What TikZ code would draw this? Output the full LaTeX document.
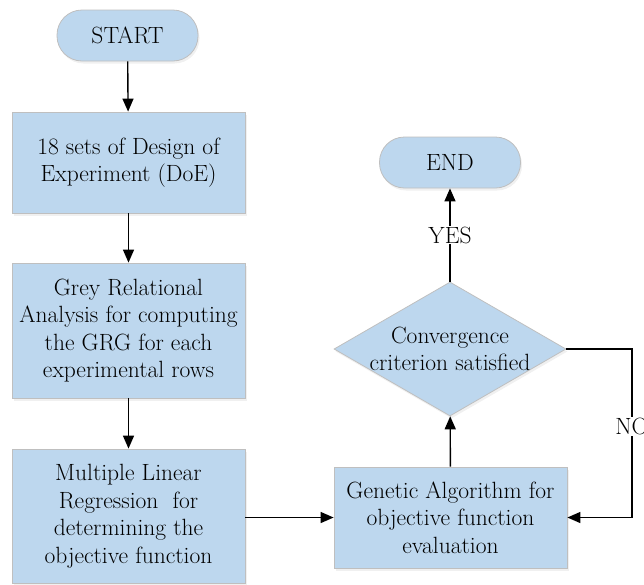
\documentclass[tikz,border=0pt]{standalone}
\usetikzlibrary{shapes.geometric,arrows.meta,shadows}
\definecolor{boxfill}{HTML}{BDD7EE}
\definecolor{boxline}{HTML}{BFBFBF}
\begin{document}
\begin{tikzpicture}[x=1pt,y=-1pt,
  txt/.style={font=\rmfamily\fontsize{23.5}{27.5}\selectfont, align=center, text=black},
  base/.style={txt, fill=boxfill, draw=boxline, line width=0.8pt, inner sep=0pt,
    drop shadow={opacity=0.12, shadow xshift=1.5pt, shadow yshift=-2.5pt}},
  procbox/.style={base, rectangle, minimum width=233pt},
  term/.style={base, rectangle, rounded corners=25pt, minimum width=141pt, minimum height=51pt},
  decision/.style={base, diamond, minimum width=232pt, minimum height=134pt},
  arrow/.style={-{Triangle[length=13pt,width=11pt]}, line width=1.4pt, black},
  lbl/.style={txt, fill=white, inner sep=1pt}]
\useasboundingbox (0,0) rectangle (644,584);
\node[term] (start) at (127.5,35.5) {START};
\node[procbox, minimum height=101pt] (doe) at (128.5,162.5) {18 sets of Design of\\Experiment (DoE)};
\node[procbox, minimum height=135pt] (gra) at (128.5,330.5) {Grey Relational\\Analysis for computing\\the GRG for each\\experimental rows};
\node[procbox, minimum height=134pt] (mlr) at (128.5,516) {Multiple Linear\\Regression~ for\\determining the\\objective function};
\node[procbox, minimum height=101pt] (ga) at (450.5,517.5) {Genetic Algorithm for\\objective function\\evaluation};
\node[decision] (conv) at (450,349) {};
\node[txt] (convtext) at (conv.center) {Convergence\\criterion satisfied};
\node[term] (end) at (450,162.5) {END};
\coordinate (nocorner1) at (632,349);
\coordinate (nocorner2) at (632,517.5);
\draw[arrow] (start) -- (doe);
\draw[arrow] (doe) -- (gra);
\draw[arrow] (gra) -- (mlr);
\draw[arrow] (mlr.east |- ga.west) -- (ga.west);
\draw[arrow] (ga) -- (conv);
\draw[arrow] (conv) -- node[lbl] (yes) {YES} (end);
\draw[arrow] (conv.east) -- (nocorner1) -- node[lbl, pos=0.46] (no) {NO} (nocorner2) -- (ga.east);
\end{tikzpicture}
\end{document}
